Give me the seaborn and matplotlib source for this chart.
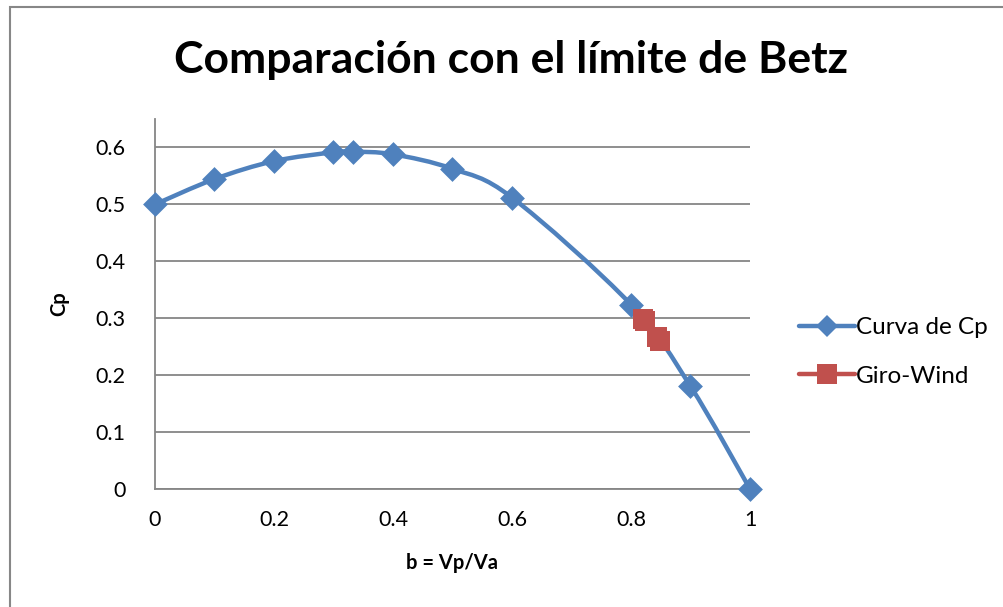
import numpy as np
import pandas as pd
import seaborn as sns
import matplotlib
matplotlib.use("Agg")
import matplotlib.pyplot as plt
from matplotlib.path import Path
from matplotlib.patches import PathPatch, Rectangle
from matplotlib.lines import Line2D

# Cp curve (velocity ratio b vs power coefficient)
b_vals = [0.0, 0.1, 0.2, 0.3, 0.3333, 0.4, 0.5, 0.6, 0.8, 0.9, 1.0]
cp_vals = [0.5, 0.5445, 0.576, 0.5915, 0.5926, 0.588, 0.5625, 0.512, 0.324, 0.1805, 0.0]

# Giro-Wind measurements
gw_b = [0.8207, 0.8235, 0.8437, 0.8487]
gw_cp = [0.298, 0.296, 0.2667, 0.2596]

x_ticks = [0, 0.2, 0.4, 0.6, 0.8, 1.0]
x_tick_labels = ["0", "0.2", "0.4", "0.6", "0.8", "1"]
y_ticks = [0, 0.1, 0.2, 0.3, 0.4, 0.5, 0.6]
y_tick_labels = ["0", "0.1", "0.2", "0.3", "0.4", "0.5", "0.6"]

BLUE = "#4F81BD"
RED = "#C0504D"
GRID = "#868686"

sns.set_theme(style="white")
plt.rcParams["font.family"] = ["Lato", "DejaVu Sans"]
plt.rcParams["text.color"] = "black"
plt.rcParams["axes.labelcolor"] = "black"

fig = plt.figure(figsize=(10.04, 6.07), dpi=100)
ax = fig.add_axes([155 / 1004, 1 - 489 / 607, (750 - 155) / 1004, (489 - 119) / 607])

curve = pd.DataFrame({"b": b_vals, "cp": cp_vals})
giro = pd.DataFrame({"b": gw_b, "cp": gw_cp})

# smoothed curve through the data points (cubic Bezier segments)
pts = np.column_stack([b_vals, cp_vals])
verts = [tuple(pts[0])]
codes = [Path.MOVETO]
n = len(pts)
for i in range(n - 1):
    p0 = pts[i - 1] if i > 0 else pts[i]
    p1 = pts[i]
    p2 = pts[i + 1]
    p3 = pts[i + 2] if i + 2 < n else pts[i + 1]
    c1 = p1 + (p2 - p0) / 6.0
    c2 = p2 - (p3 - p1) / 6.0
    verts += [tuple(c1), tuple(c2), tuple(p2)]
    codes += [Path.CURVE4, Path.CURVE4, Path.CURVE4]
ax.add_patch(PathPatch(Path(verts, codes), facecolor="none", edgecolor=BLUE,
                       lw=3.2, capstyle="round", joinstyle="round", zorder=3,
                       clip_on=False))

sns.scatterplot(data=curve, x="b", y="cp", marker="D", s=160, color=BLUE,
                edgecolor=BLUE, linewidth=0, ax=ax, zorder=4, clip_on=False)
sns.lineplot(data=giro, x="b", y="cp", color=RED, lw=3.2, marker="s",
             markersize=15, markeredgewidth=0, ax=ax, zorder=5, sort=False)

ax.set_xlim(0, 1.0)
ax.set_ylim(0, 0.65)
ax.set_xticks(x_ticks)
ax.set_xticklabels(x_tick_labels)
ax.set_yticks(y_ticks)
ax.set_yticklabels(y_tick_labels)
ax.tick_params(axis="both", length=0, labelsize=15.5, colors="black")
ax.tick_params(axis="x", pad=15)
ax.tick_params(axis="y", pad=21)
ax.yaxis.grid(True, color=GRID, lw=1.3)
ax.xaxis.grid(False)
for side in ["top", "right"]:
    ax.spines[side].set_visible(False)
for side in ["left", "bottom"]:
    ax.spines[side].set_color(GRID)
    ax.spines[side].set_linewidth(1.3)

ax.set_xlabel("b = Vp/Va", fontsize=14.5, fontweight="bold", labelpad=17)
ax.set_ylabel("Cp", fontsize=14.5, fontweight="bold", labelpad=19)

fig.text(511 / 1004, 1 - 60 / 607, "Comparación con el límite de Betz",
         ha="center", va="center", fontsize=32, fontweight="bold")

handles = [
    Line2D([], [], color=BLUE, lw=3.2, marker="D", markersize=11, markeredgewidth=0),
    Line2D([], [], color=RED, lw=3.2, marker="s", markersize=14, markeredgewidth=0),
]
fig.legend(handles, ["Curva de Cp", "Giro-Wind"], loc="center left",
           bbox_to_anchor=(789 / 1004, 1 - 352 / 607), frameon=False,
           fontsize=17.5, handlelength=2.3, handletextpad=0.05, labelspacing=1.15,
           borderaxespad=0)

# chart-area border
fig.patches.append(Rectangle((10 / 1004, -0.05), 1.1, 1 - 7 / 607 + 0.05,
                             transform=fig.transFigure, fill=False,
                             edgecolor="#878787", lw=1.5))

fig.savefig("out.png", dpi=100, facecolor="white")
